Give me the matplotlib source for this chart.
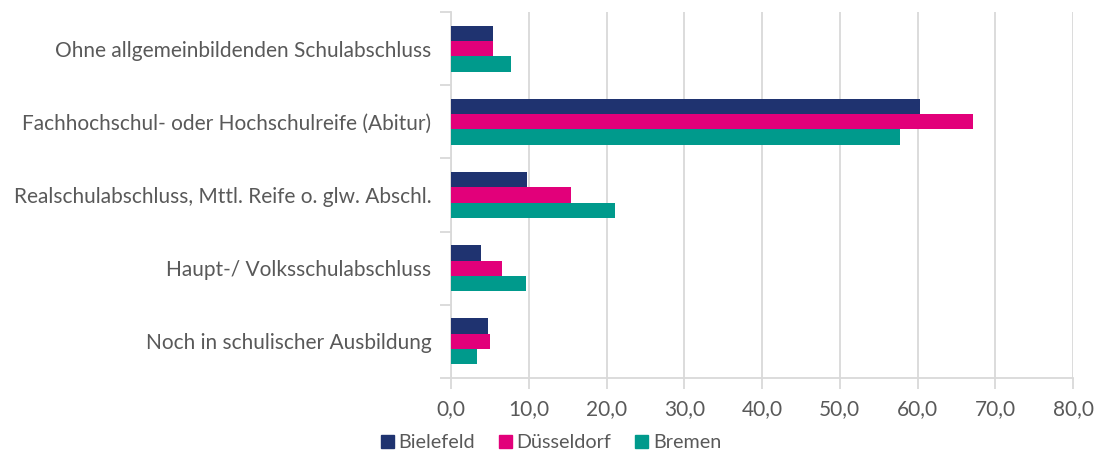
import numpy as np
import matplotlib
matplotlib.use("Agg")
import matplotlib.pyplot as plt
from matplotlib.patches import Patch

categories = [
    "Ohne allgemeinbildenden Schulabschluss",
    "Fachhochschul- oder Hochschulreife (Abitur)",
    "Realschulabschluss, Mttl. Reife o. glw. Abschl.",
    "Haupt-/ Volksschulabschluss",
    "Noch in schulischer Ausbildung",
]
series_names = ["Bielefeld", "Düsseldorf", "Bremen"]
bielefeld = [5.4, 60.3, 9.8, 3.9, 4.7]
duesseldorf = [5.4, 67.2, 15.4, 6.5, 5.0]
bremen = [7.7, 57.8, 21.1, 9.6, 3.3]
xticks = [0, 10, 20, 30, 40, 50, 60, 70, 80]

colors = ["#1F3370", "#E2007A", "#009A8C"]
text_color = "#595959"
grid_color = "#D9D9D9"

plt.rcParams["font.family"] = ["Lato", "DejaVu Sans"]

fig = plt.figure(figsize=(10.95, 4.54), dpi=100)
ax = fig.add_axes([451 / 1095, 1 - 378 / 454, (1073 - 451) / 1095, (378 - 12) / 454])

n = len(categories)
y = np.arange(n)
h = 0.21
for i, (vals, col) in enumerate(zip([bielefeld, duesseldorf, bremen], colors)):
    ax.barh(y + (i - 1) * h, vals, height=h, color=col, zorder=3)

ax.set_ylim(n - 0.5, -0.5)
ax.set_xlim(0, 80)
ax.set_yticks(y)
ax.set_yticklabels(categories, fontsize=15, color=text_color)
ax.tick_params(axis="y", length=0, pad=14)
ax.set_yticks(np.arange(n + 1) - 0.5, minor=True)
ax.tick_params(axis="y", which="minor", length=8, color=grid_color, width=1.3)

ax.set_xticks(xticks)
ax.set_xticklabels([f"{v:.1f}".replace(".", ",") for v in xticks], fontsize=15, color=text_color)
ax.tick_params(axis="x", length=8, color=grid_color, width=1.3, pad=7)
ax.grid(axis="x", color=grid_color, linewidth=1.3, zorder=0)

for s in ["top", "right"]:
    ax.spines[s].set_visible(False)
for s in ["left", "bottom"]:
    ax.spines[s].set_color(grid_color)
    ax.spines[s].set_linewidth(1.3)

handles = [Patch(color=c, label=l) for c, l in zip(colors, series_names)]
fig.legend(handles=handles, loc="center", bbox_to_anchor=(551 / 1095, 1 - 443 / 454),
           ncol=3, frameon=False, fontsize=14.2, handlelength=0.65, handleheight=0.65,
           handletextpad=0.25, columnspacing=1.2, labelcolor=text_color)

fig.savefig("out.png", dpi=100)
